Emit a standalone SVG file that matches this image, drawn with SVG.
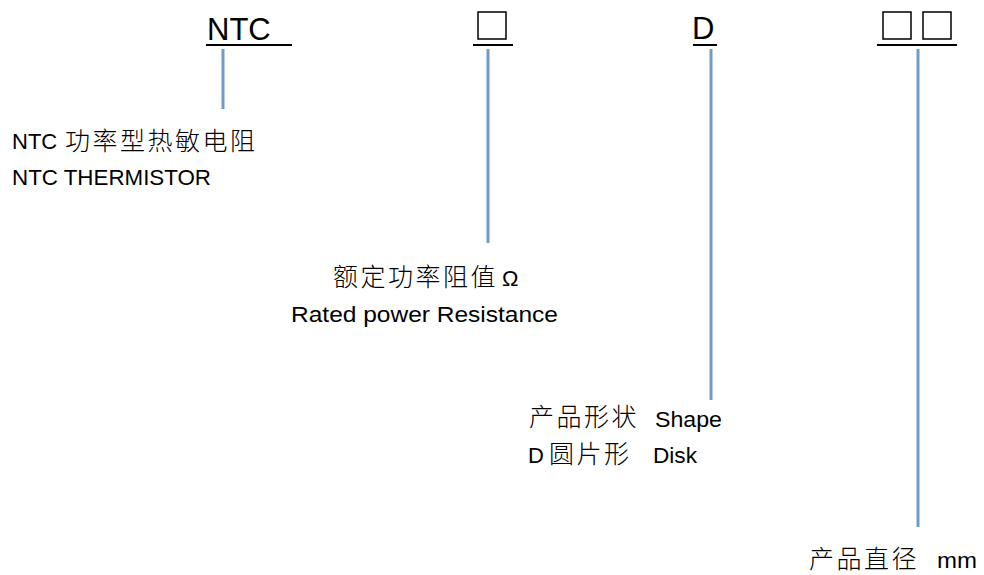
<svg xmlns="http://www.w3.org/2000/svg" width="984" height="575" viewBox="0 0 984 575">
<style>
.code{font-family:"Liberation Sans","Noto Sans CJK SC",sans-serif;font-size:31px;fill:#000}
.lbl{font-family:"Liberation Sans","Noto Sans CJK SC",sans-serif;font-size:22px;fill:#000}
.cjk{font-family:"Noto Sans CJK SC",sans-serif;font-size:25px;font-weight:300;letter-spacing:2.5px;fill:#000}
.ul{stroke:#000;stroke-width:2;fill:none}
.box{stroke:#000;stroke-width:1.5;fill:none}
.conn{stroke:#6f9bc8;stroke-width:3;fill:none}
</style>
<rect width="984" height="575" fill="#fff"/>
<g id="code-ntc">
<text class="code" x="207" y="40">NTC</text>
<line class="ul" x1="206" y1="45" x2="292" y2="45"/>
</g>
<g id="code-resistance">
<rect class="box" x="478" y="12" width="28" height="27"/>
<line class="ul" x1="473" y1="45" x2="513" y2="45"/>
</g>
<g id="code-shape">
<text class="code" x="692" y="39">D</text>
<line class="ul" x1="693" y1="45" x2="717" y2="45"/>
</g>
<g id="code-diameter">
<rect class="box" x="883" y="12" width="28" height="27"/>
<rect class="box" x="923" y="12" width="28" height="27"/>
<line class="ul" x1="877" y1="45" x2="957" y2="45"/>
</g>
<g id="connectors">
<line class="conn" x1="223" y1="49" x2="223" y2="109"/>
<line class="conn" x1="488" y1="49" x2="488" y2="243"/>
<line class="conn" x1="711" y1="49" x2="711" y2="400"/>
<line class="conn" x1="918" y1="49" x2="918" y2="527"/>
</g>
<g id="label-ntc">
<text class="lbl" x="12" y="149">NTC</text>
<text class="cjk" x="65" y="150">功率型热敏电阻</text>
<text class="lbl" x="12" y="185" textLength="199" lengthAdjust="spacingAndGlyphs">NTC THERMISTOR</text>
</g>
<g id="label-resistance">
<text class="cjk" x="333" y="286">额定功率阻值</text>
<text class="lbl" x="502" y="286">Ω</text>
<text class="lbl" x="291" y="322" font-size="24" textLength="267" lengthAdjust="spacingAndGlyphs">Rated power Resistance</text>
</g>
<g id="label-shape">
<text class="cjk" x="529" y="426">产品形状</text>
<text class="lbl" x="655" y="427" textLength="67" lengthAdjust="spacingAndGlyphs">Shape</text>
<text class="lbl" x="528" y="463" font-size="20">D</text>
<text class="cjk" x="549" y="463">圆片形</text>
<text class="lbl" x="653" y="463" textLength="44" lengthAdjust="spacingAndGlyphs">Disk</text>
</g>
<g id="label-diameter">
<text class="cjk" x="809" y="568">产品直径</text>
<text class="lbl" x="937" y="568" textLength="40" lengthAdjust="spacingAndGlyphs">mm</text>
</g>
</svg>
